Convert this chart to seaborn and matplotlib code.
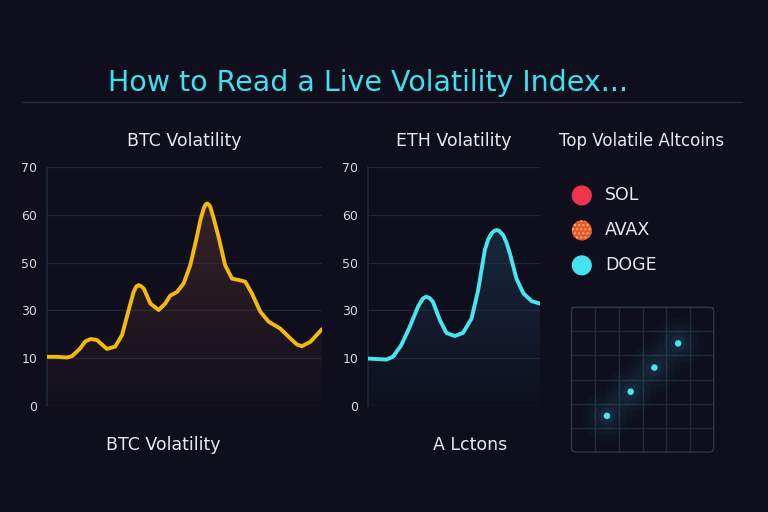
import numpy as np
import pandas as pd
import matplotlib
matplotlib.use("Agg")
import matplotlib.pyplot as plt
import seaborn as sns
from matplotlib.patches import FancyBboxPatch

# data (y in axis units, ticks are relabelled)
btc_x = [0, 3.6, 7.3, 9.1, 12.1, 13.9, 15.8, 17.0, 18.2, 21.8, 24.8, 27.3, 29.7, 31.5,
         32.4, 33.3, 34.2, 35.2, 37.6, 40.6, 43.0, 44.8, 47.3, 49.7, 52.1, 54.5, 55.8,
         57.0, 57.6, 58.2, 58.8, 59.4, 60.6, 62.4, 64.8, 67.3, 69.7, 72.1, 74.5, 77.6,
         80.6, 84.8, 88.5, 90.9, 92.7, 95.8, 100]
btc_y = [14.4, 14.4, 14.2, 14.6, 16.9, 18.9, 19.6, 19.5, 19.3, 16.7, 17.4, 20.8, 28.1, 33.4,
         34.9, 35.4, 35.1, 34.4, 30.0, 28.1, 30.0, 32.3, 33.4, 35.9, 41.2, 49.5, 54.5,
         57.8, 58.9, 59.3, 59.0, 58.3, 55.0, 49.5, 41.2, 37.3, 36.9, 36.4, 33.0, 27.6,
         24.7, 22.7, 19.8, 18.0, 17.5, 18.8, 22.5]
eth_x = [0, 6.7, 9.1, 12.1, 15.2, 18.2, 20.0, 21.2, 22.4, 23.6, 26.1, 28.5, 31.5, 34.5,
         37.6, 40.0, 42.4, 43.6, 44.8, 45.7, 46.7, 47.6, 49.1, 50.3, 51.5, 53.9, 56.4,
         59.4, 62.4]
eth_y = [13.9, 13.6, 14.4, 17.8, 23.2, 29.1, 31.5, 32.0, 31.6, 30.5, 25.2, 21.4, 20.5, 21.4,
         25.6, 33.9, 45.6, 48.7, 50.5, 51.2, 51.5, 51.3, 50.0, 47.8, 44.7, 37.3, 33.0,
         30.7, 30.0]
tick_pos = [0, 14, 28, 42, 56, 70]
tick_labels = ["0", "10", "30", "50", "60", "70"]
coins = ["SOL", "AVAX", "DOGE"]
coin_colors = ["#f0344e", "#e8553a", "#45e3ee"]
grid_pts_x = [1.5, 2.5, 3.5, 4.5]
grid_pts_y = [1.5, 2.5, 3.5, 4.5]

BG = "#0e0e1c"
GRID = "#1c2738"
TXT = "#e8e8ee"

sns.set_theme(style="dark")
plt.rcParams["font.family"] = ["DejaVu Sans"]

fig = plt.figure(figsize=(7.68, 5.12), dpi=100, facecolor=BG)

fig.text(0.479, 0.838, "How to Read a Live Volatility Index...", color="#3fe0ef",
         fontsize=20.5, ha="center", va="center")
fig.add_artist(plt.Line2D([0.029, 0.966], [0.801, 0.801], color="#262a3a", lw=1))


def vol_panel(rect, x, y, color, fill_rgb, title):
    ax = fig.add_axes(rect, facecolor=BG)
    df = pd.DataFrame({"x": x, "y": y})
    poly = ax.fill_between(df["x"], df["y"], 0, color="none", lw=0)
    grad = np.zeros((100, 2, 4))
    grad[:, :, :3] = fill_rgb
    grad[:, :, 3] = np.linspace(0.6, 0.05, 100)[:, None]
    im = ax.imshow(grad, extent=[min(x), max(x), 0, max(y)], aspect="auto",
                   origin="upper", zorder=1)
    im.set_clip_path(poly.get_paths()[0], transform=ax.transData)
    sns.lineplot(data=df, x="x", y="y", ax=ax, color=color, lw=2.8, zorder=3,
                 solid_joinstyle="round", solid_capstyle="round")
    ax.set_xlim(min(x), max(x))
    ax.set_ylim(0, 70)
    ax.set_yticks(tick_pos)
    ax.set_yticklabels(tick_labels)
    ax.set_xticks([])
    ax.set_xlabel("")
    ax.set_ylabel("")
    ax.tick_params(axis="y", colors="#d8d8de", labelsize=9, length=0, pad=7)
    ax.grid(axis="y", color=GRID, lw=1)
    ax.grid(axis="x", visible=False)
    for s in ["top", "right", "bottom"]:
        ax.spines[s].set_visible(False)
    ax.spines["left"].set_color(GRID)
    ax.set_title(title, color=TXT, fontsize=12.5, pad=15)
    return ax


vol_panel([0.0612, 0.207, 0.358, 0.467], btc_x, btc_y, "#f5b90a",
          (0.32, 0.19, 0.17), "BTC Volatility")
vol_panel([0.479, 0.207, 0.224, 0.467], eth_x, eth_y, "#46e6f0",
          (0.12, 0.22, 0.32), "ETH Volatility")

fig.text(0.835, 0.724, "Top Volatile Altcoins", color=TXT, fontsize=12, ha="center", va="center")

# legend dots
leg = fig.add_axes([0.726, 0.45, 0.25, 0.2], facecolor="none")
leg_df = pd.DataFrame({"x": [0, 0, 0], "y": [2, 1, 0], "coin": coins})
sns.scatterplot(data=leg_df, x="x", y="y", hue="coin", palette=coin_colors, s=210,
                edgecolor="none", legend=False, ax=leg)
leg.scatter([0], [1], s=210, facecolor="none", edgecolor="#f5c040", hatch="....", lw=0)
for yy, name in zip(leg_df["y"], coins):
    leg.text(0.62, yy, name, color=TXT, fontsize=12.5, va="center")
leg.set_xlim(-0.65, 4.5)
leg.set_ylim(-0.465, 2.465)
leg.axis("off")

# mini scatter grid
mini = fig.add_axes([0.744, 0.117, 0.1853, 0.283], facecolor=BG)
pts = pd.DataFrame({"x": grid_pts_x, "y": grid_pts_y})
for s, a in [(1400, 0.03), (800, 0.04), (400, 0.06), (150, 0.08)]:
    sns.scatterplot(data=pts, x="x", y="y", s=s, color="#3a9cc0", alpha=a,
                    edgecolor="none", ax=mini, legend=False)
sns.scatterplot(data=pts, x="x", y="y", s=22, color="#45e6f0", edgecolor="none",
                ax=mini, legend=False, zorder=5)
mini.set_xlim(0, 6)
mini.set_ylim(0, 6)
mini.set_xticks(range(7))
mini.set_yticks(range(7))
mini.set_xticklabels([])
mini.set_yticklabels([])
mini.tick_params(length=0)
mini.grid(True, color="#1f2b3a", lw=1)
mini.set_xlabel("")
mini.set_ylabel("")
for s in mini.spines.values():
    s.set_visible(False)
mini.add_patch(FancyBboxPatch((0, 0), 6, 6, boxstyle="round,pad=0,rounding_size=0.2",
                              fill=False, ec="#2a3848", lw=1, transform=mini.transData,
                              clip_on=False))

fig.text(0.212, 0.131, "BTC Volatility", color=TXT, fontsize=12.5, ha="center", va="center")
fig.text(0.612, 0.131, "A Lctons", color=TXT, fontsize=12.5, ha="center", va="center")

fig.savefig("out.png", dpi=100, facecolor=BG)
